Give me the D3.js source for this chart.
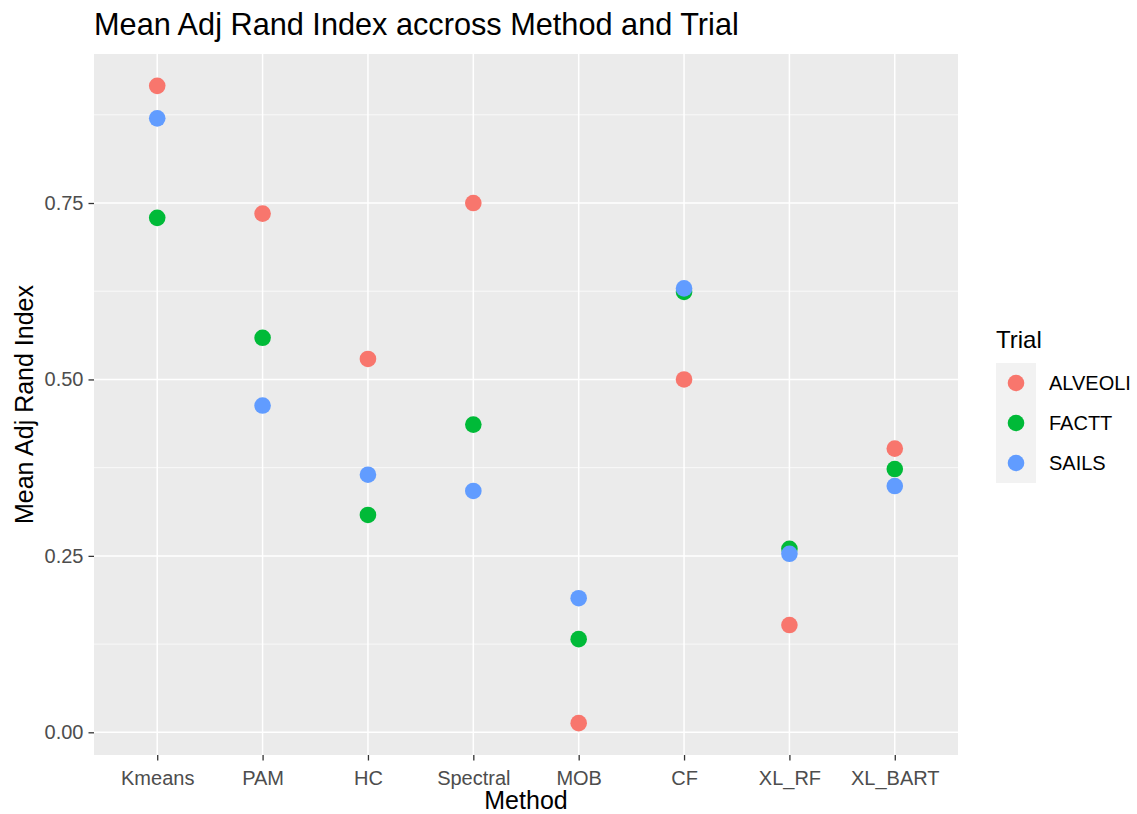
<!DOCTYPE html>
<html>
<head>
<meta charset="utf-8">
<script src="https://cdn.jsdelivr.net/npm/d3@7"></script>
<style>
  body { margin: 0; background: #fff; }
  text { font-family: Arial, "Liberation Sans", sans-serif; }
</style>
</head>
<body>
<svg width="1137" height="814"></svg>
<script>
// data
var methods = ['Kmeans', 'PAM', 'HC', 'Spectral', 'MOB', 'CF', 'XL_RF', 'XL_BART']
var trials = ['ALVEOLI', 'FACTT', 'SAILS']
var alveoli = [0.916, 0.735, 0.529, 0.750, 0.013, 0.500, 0.152, 0.402]
var factt = [0.729, 0.559, 0.308, 0.436, 0.132, 0.624, 0.260, 0.373]
var sails = [0.870, 0.463, 0.365, 0.342, 0.190, 0.629, 0.253, 0.349]
var yTicks = [0, 0.25, 0.5, 0.75]
var yMinor = [0.125, 0.375, 0.625, 0.875]
var colors = ['#F8766D', '#00BA38', '#619CFF']

var svg = d3.select('svg'),
  margin = {top: 54, left: 94, right: 179, bottom: 59},
  width = +svg.attr('width') - margin.left - margin.right,
  height = +svg.attr('height') - margin.top - margin.bottom

var series = [alveoli, factt, sails]
var points = []
series.forEach(function (vals, i) {
  vals.forEach(function (v, j) {
    points.push({method: methods[j], trial: trials[i], value: v})
  })
})

// ggplot-style expansion
var ext = d3.extent(points, function (d) { return d.value })
var pad = (ext[1] - ext[0]) * 0.05

var x = d3.scalePoint().domain(methods).range([0, width]).padding(0.6)
var y = d3.scaleLinear().domain([ext[0] - pad, ext[1] + pad]).range([height, 0])
var color = d3.scaleOrdinal().domain(trials).range(colors)

var g = svg.append('g')
    .attr('transform', 'translate(' + margin.left + ',' + margin.top + ')')

g.append('rect')
    .attr('width', width)
    .attr('height', height)
    .attr('fill', '#EBEBEB')

g.selectAll('.minor')
    .data(yMinor)
  .enter().append('line')
    .attr('x1', 0).attr('x2', width)
    .attr('y1', y).attr('y2', y)
    .attr('stroke', '#fff')
    .attr('stroke-width', 0.7)

g.selectAll('.hmajor')
    .data(yTicks)
  .enter().append('line')
    .attr('x1', 0).attr('x2', width)
    .attr('y1', y).attr('y2', y)
    .attr('stroke', '#fff')
    .attr('stroke-width', 1.5)

g.selectAll('.vmajor')
    .data(methods)
  .enter().append('line')
    .attr('x1', x).attr('x2', x)
    .attr('y1', 0).attr('y2', height)
    .attr('stroke', '#fff')
    .attr('stroke-width', 1.5)

var xAxis = d3.axisBottom(x).tickSize(5.5).tickPadding(5)
var yAxis = d3.axisLeft(y).tickValues(yTicks).tickSize(5.5).tickPadding(5)
    .tickFormat(d3.format('.2f'))

var gx = g.append('g')
    .attr('transform', 'translate(0,' + height + ')')
    .call(xAxis)
var gy = g.append('g').call(yAxis)

;[gx, gy].forEach(function (ax) {
  ax.select('.domain').remove()
  ax.selectAll('.tick line').attr('stroke', '#333').attr('stroke-width', 1.3)
  ax.selectAll('.tick text')
      .attr('fill', '#4D4D4D')
      .style('font-size', '20px')
})
gx.selectAll('.tick text').attr('dy', '0.95em')

g.selectAll('circle')
    .data(points)
  .enter().append('circle')
    .attr('cx', function (d) { return x(d.method) })
    .attr('cy', function (d) { return y(d.value) })
    .attr('r', 8.3)
    .attr('fill', function (d) { return color(d.trial) })

// titles
svg.append('text')
    .attr('x', margin.left)
    .attr('y', 35)
    .style('font-size', '30.7px')
    .text('Mean Adj Rand Index accross Method and Trial')

svg.append('text')
    .attr('x', margin.left + width / 2)
    .attr('y', 809)
    .attr('text-anchor', 'middle')
    .style('font-size', '25px')
    .text('Method')

svg.append('text')
    .attr('transform', 'translate(33,' + (margin.top + height / 2) + ') rotate(-90)')
    .attr('text-anchor', 'middle')
    .style('font-size', '25px')
    .text('Mean Adj Rand Index')

// legend
var legend = svg.append('g').attr('transform', 'translate(996,0)')
legend.append('text')
    .attr('x', 0)
    .attr('y', 348)
    .style('font-size', '24px')
    .text('Trial')

var keys = legend.selectAll('.key')
    .data(trials)
  .enter().append('g')
    .attr('transform', function (d, i) { return 'translate(0,' + (363 + i * 40) + ')' })

keys.append('rect')
    .attr('width', 40)
    .attr('height', 40)
    .attr('fill', '#F2F2F2')
keys.append('circle')
    .attr('cx', 20)
    .attr('cy', 20)
    .attr('r', 8.3)
    .attr('fill', function (d) { return color(d) })
keys.append('text')
    .attr('x', 53)
    .attr('y', 20)
    .attr('dy', '0.35em')
    .style('font-size', '20px')
    .text(function (d) { return d })
</script>
</body>
</html>
